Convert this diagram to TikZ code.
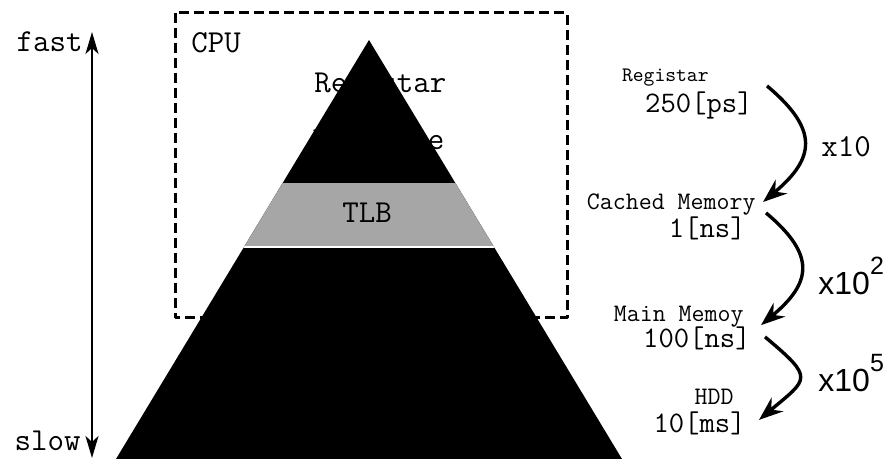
\documentclass[tikz,border=0pt]{standalone}
\usepackage{fontspec}
\setsansfont{Liberation Sans}
\usetikzlibrary{arrows.meta}

\begin{document}
\begin{tikzpicture}[
	x=0.5pt, y=0.5pt,
	line join=round,
	>={Stealth[length=12pt,width=9pt,inset=4pt]},
	layer/.style={inner sep=0pt, font=\ttfamily\fontsize{16}{18}\selectfont},
	memname/.style={inner sep=0pt, font=\ttfamily\fontsize{12.6}{14}\selectfont},
	memtime/.style={inner sep=0pt, font=\ttfamily\fontsize{14.9}{17}\selectfont},
	factor/.style={inner sep=0pt, font=\sffamily\fontsize{16}{18}\selectfont},
	hop/.style={->, line width=1.7pt},
	speed/.style={>={Stealth[length=11pt,width=6.5pt,inset=3pt]}, <->, line width=1.3pt},
	cpubox/.style={dash pattern=on 5pt off 2.5pt, line width=1.5pt}
	]
	
	% Khung
	\useasboundingbox (0,0) rectangle (889,-459);
	
	% Khung CPU
	\draw[cpubox] (175,-13) rectangle (567,-318);
	\node[layer, anchor=base west] (cpu) at (191,-53) {CPU};
	
	% Nhãn các tầng
	\node[layer, anchor=base west] (reg) at (314,-93) {Registar};
	\node[layer, anchor=base west] (cache) at (312,-150) {L1 Cache};
	
	% Kim tự tháp
	\fill (369,-40) -- (116,-459) -- (622,-459) -- cycle;
	\begin{scope}
		\clip (369,-40) -- (116,-459) -- (622,-459) -- cycle;
		\fill[black!35] (0,-183) rectangle (889,-246);
		\fill[white] (0,-246) rectangle (889,-248.5);
	\end{scope}
	\node[layer, anchor=base west] (tlb) at (342,-223) {TLB};
	
	% Trục tốc độ
	\coordinate (hi) at (92,-32);
	\coordinate (lo) at (92,-458);
	\draw[speed] (hi) -- (lo);
	\node[layer, anchor=base east] (fast) at (83,-52) {fast};
	\node[layer, anchor=base east] (slow) at (81,-451) {slow};
	
	% Độ trễ
	\node[memname, font=\ttfamily\fontsize{10.3}{12}\selectfont, anchor=base east] (regR) at (709,-82) {Registar};
	\node[memtime, anchor=base east] (ps) at (753,-113) {250[ps]};
	\node[memname, anchor=base east] (cm) at (756,-210) {Cached Memory};
	\node[memtime, anchor=base east] (ns1) at (746,-238) {1[ns]};
	\node[memname, anchor=base east] (mm) at (744,-322) {Main Memoy};
	\node[memtime, anchor=base east] (ns100) at (751,-348) {100[ns]};
	\node[memname, anchor=base east] (hdd) at (734,-405) {HDD};
	\node[memtime, anchor=base east] (ms) at (746,-433) {10[ms]};
	
	% Hệ số
	\node[layer, anchor=base west] (f1) at (821,-157) {x10};
	\node[factor, anchor=base west] (f2) at (818,-295) {x10\raisebox{10pt}{\fontsize{12.5}{14}\selectfont 2}};
	\node[factor, anchor=base west] (f3) at (818,-392) {x10\raisebox{10pt}{\fontsize{12.5}{14}\selectfont 5}};
	
	% Mũi tên
	\draw[hop] ([xshift=7pt,yshift=3pt]ps.north east) to[out=-40,in=40,looseness=1.5] ([xshift=3.5pt,yshift=1.5pt]cm.east);
	\draw[hop] ([xshift=10pt,yshift=2pt]ns1.north east) to[out=-40,in=40,looseness=1.5] ([xshift=8.5pt,yshift=-4pt]mm.east);
	\draw[hop] ([xshift=7pt,yshift=-5pt]ns100.north east) to[out=-40,in=40,looseness=2] ([xshift=6.5pt,yshift=2pt]ms.east);
	
\end{tikzpicture}
\end{document}
